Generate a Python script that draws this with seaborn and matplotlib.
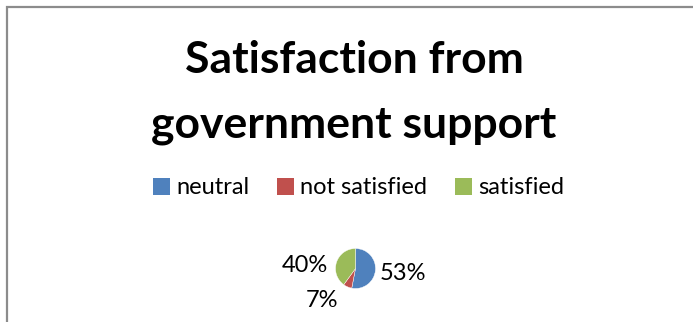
import numpy as np
import matplotlib
matplotlib.use("Agg")
import matplotlib.pyplot as plt
import seaborn as sns
from matplotlib.patches import Patch, Rectangle

categories = ["neutral", "not satisfied", "satisfied"]
values = [53, 7, 40]
pct_labels = ["53%", "7%", "40%"]
colors = ["#4F81BD", "#C0504D", "#9BBB59"]

sns.set_theme(style="white")
plt.rcParams['font.family'] = ['Lato', 'DejaVu Sans']
plt.rcParams['text.color'] = 'black'

W, H = 693, 322
fig = plt.figure(figsize=(W / 100, H / 100), dpi=100)
fig.patch.set_facecolor("white")

# frame (gray border, cut off at right and bottom)
fig.patches.append(Rectangle((7 / W, -0.1), 1.2, (H - 7) / H + 0.1,
                             transform=fig.transFigure, fill=False,
                             edgecolor="#8c8c8c", linewidth=1.6))

fig.text(354 / W, 1 - 73 / H, "Satisfaction from", ha="center", va="baseline",
         fontsize=32, fontweight="bold", color="black")
fig.text(354 / W, 1 - 137 / H, "government support", ha="center", va="baseline",
         fontsize=32, fontweight="bold", color="black")

# pie axes: radius 20 px centered at (355.5, 268.5)
cx, cy, r = 355.5, 268.5, 20.0
aw, ah = 200, 100
ax = fig.add_axes([(cx - aw / 2) / W, 1 - (cy + ah / 2) / H, aw / W, ah / H])
ax.axis("off")
wedges, _ = ax.pie(values, colors=colors, startangle=90, counterclock=False,
                   radius=1, wedgeprops=dict(linewidth=0.3, edgecolor="white"))
ax.set_aspect("equal")
ax.set_xlim(-aw / 2 / r, aw / 2 / r)
ax.set_ylim(-ah / 2 / r, ah / 2 / r)

label_pos = [(2.35, -0.575), (-1.675, -1.925), (-2.525, -0.175)]
for (x, y), t in zip(label_pos, pct_labels):
    ax.text(x, y, t, ha="center", va="baseline", fontsize=17, color="black",
            clip_on=False)

handles = [Patch(facecolor=c, edgecolor="none") for c in colors]
leg = fig.legend(handles, categories, loc="center", bbox_to_anchor=(358.5 / W, 1 - 188 / H),
                 ncol=3, frameon=False, fontsize=17, handlelength=0.72, handleheight=0.72,
                 handletextpad=0.28, columnspacing=1.15, borderpad=0, borderaxespad=0)
for t in leg.get_texts():
    t.set_color("black")

fig.savefig("out.png", dpi=100)
